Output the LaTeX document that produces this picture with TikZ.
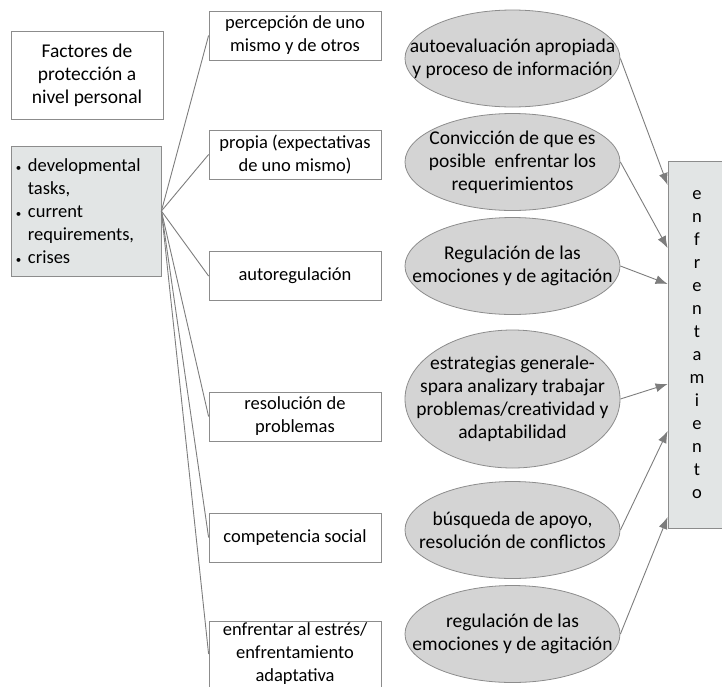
\documentclass[tikz,border=0pt]{standalone}
\usepackage{fontspec}
\setmainfont{Carlito}
\usetikzlibrary{shapes.geometric, arrows.meta, positioning}
\definecolor{rahmengrau}{RGB}{140,140,140}
\definecolor{liniengrau}{RGB}{125,125,125}
\definecolor{kastengrau}{RGB}{226,229,229}
\definecolor{ovalgrau}{RGB}{212,212,212}
\newcommand{\punkt}{\makebox[13pt][l]{\hspace{1pt}\fontsize{11}{11}\selectfont\textbullet}}
\newcommand{\einzug}{\hspace*{13pt}}

\begin{document}
\begin{tikzpicture}[x=1pt, y=-1pt,
				>={Latex[length=12pt,width=9pt]},   %Pfeilspitzen
				font=\fontsize{18.5}{23}\selectfont,
				kasten/.style={draw=rahmengrau, line width=0.8pt, minimum width=172pt, minimum height=49pt, align=center, inner sep=2pt},
				oval/.style={ellipse, draw=rahmengrau, line width=0.8pt, fill=ovalgrau, minimum width=215pt, minimum height=97pt, inner sep=0pt},
				ovaltext/.style={align=center, font=\fontsize{19.5}{23}\selectfont},
				verb/.style={draw=liniengrau, line width=0.9pt}]
				\useasboundingbox (0,0) rectangle (722,686);
				% linke Spalte
				\node[kasten, minimum width=152pt, minimum height=88pt, font=\fontsize{19.5}{23}\selectfont] (factores) at (87,75) {Factores de\\protección a\\nivel personal};
				\node[kasten, fill=kastengrau, minimum width=150pt, minimum height=130pt, text width=142pt, inner xsep=4pt, align=left] (tareas) at (86,211)
					{\punkt developmental\\\einzug tasks,\\\punkt current\\\einzug requirements,\\\punkt crises};
				% mittlere Spalte
				\node[kasten] (percepcion) at (295,35.5) {percepción de uno\\mismo y de otros};
				\node[kasten] (propia) at (295,154.5) {propia (expectativas\\de uno mismo)};
				\node[kasten] (autoreg) at (295,276) {autoregulación};
				\node[kasten] (resolucion) at (295,416.5) {resolución de\\problemas};
				\node[kasten] (competencia) at (295,537.5) {competencia social};
				\node[kasten, minimum height=65pt] (estres) at (295,654) {enfrentar al estrés/\\enfrentamiento\\adaptativa};
				% Ovale
				\node[oval, label={[name=autoevalt, ovaltext]center:autoevaluación apropiada\\y proceso de información}] (autoeval) at (512.5,58.5) {};
				\node[oval, label={[name=conviccht, ovaltext]center:Convicción de que es\\posible\ \ enfrentar los\\requerimientos}] (convicc) at (512.5,162) {};
				\node[oval, label={[name=regult, ovaltext]center:Regulación de las\\emociones y de agitación}] (regul) at (512.5,266) {};
				\node[oval, minimum height=138pt, label={[name=estrategt, ovaltext]center:estrategias generale-\\spara analizary trabajar\\problemas/creatividad y\\adaptabilidad}] (estrateg) at (512.5,399) {};
				\node[oval, label={[name=busquedat, ovaltext]center:búsqueda de apoyo,\\resolución de conflictos}] (busqueda) at (512.5,530) {};
				\node[oval, label={[name=regulbt, ovaltext]center:regulación de las\\emociones y de agitación}] (regulb) at (512.5,634) {};
				% rechter Kasten
				\node[kasten, fill=kastengrau, minimum width=58pt, minimum height=367pt] (enfrent) at (697,344.5)
					{e\\n\\f\\r\\e\\n\\t\\a\\m\\i\\e\\n\\t\\o};
				% Verbindungen
				\foreach \ziel in {percepcion, propia, autoreg, resolucion, competencia, estres}
					\draw[verb] (tareas.east) -- (\ziel.west);
				% Pfeile
				\draw[verb, ->] (autoeval.east) -- ([yshift=159.5pt]enfrent.west);
				\draw[verb, ->] (convicc.east) -- ([yshift=96.5pt]enfrent.west);
				\draw[verb, ->] (regul.east) -- ([yshift=60.5pt]enfrent.west);
				\draw[verb, ->] (estrateg.east) -- ([yshift=-39.5pt]enfrent.west);
				\draw[verb, ->] (busqueda.east) -- ([yshift=-86.5pt]enfrent.west);
				\draw[verb, ->] (regulb.east) -- ([yshift=-172.5pt]enfrent.west);
			\end{tikzpicture}
\end{document}
